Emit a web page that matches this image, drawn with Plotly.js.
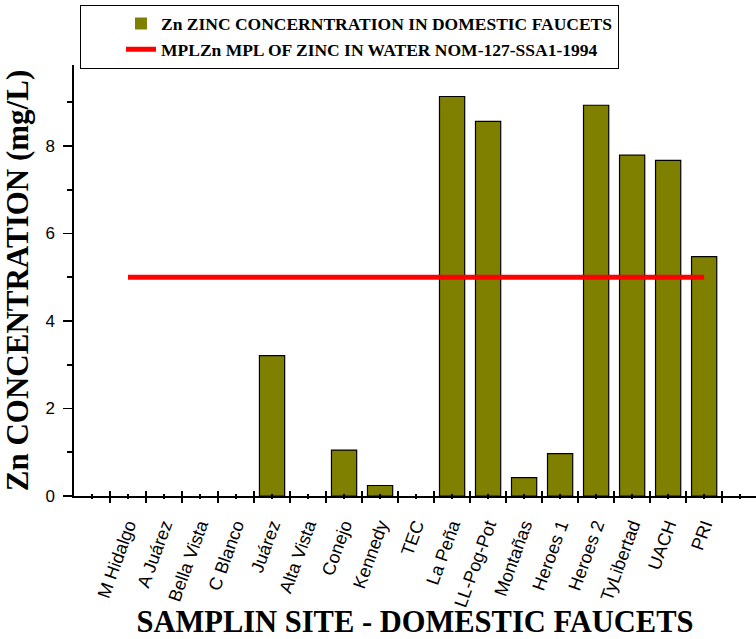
<!DOCTYPE html>
<html>
<head>
<meta charset="utf-8">
<script src="https://cdn.plot.ly/plotly-3.0.1.min.js"></script>
<style>
  html, body { margin: 0; padding: 0; background: #ffffff; }
  #chart { width: 756px; height: 639px; }
</style>
</head>
<body>
<div id="chart"></div>
<script>
// Sampling sites (domestic faucets)
const sites = [
  'M Hidalgo', 'A Juárez', 'Bella Vista', 'C Blanco', 'Juárez', 'Alta Vista',
  'Conejo', 'Kennedy', 'TEC', 'La Peña', 'LL-Pog-Pot', 'Montañas',
  'Heroes 1', 'Heroes 2', 'TyLibertad', 'UACH', 'PRI'
];

// Zinc concentration measured at each site (mg/L)
const zincConc = [
  0, 0, 0, 0, 3.21, 0,
  1.05, 0.24, 0, 9.13, 8.56, 0.42,
  0.97, 8.93, 7.79, 7.67, 5.47
];

// Maximum permissible limit of zinc, NOM-127-SSA1-1994 (mg/L)
const mplZn = [5, 5, 5, 5, 5, 5, 5, 5, 5, 5, 5, 5, 5, 5, 5, 5, 5];

const yTickVals = [0, 2, 4, 6, 8];

const seriesNames = [
  'Zn ZINC CONCERNTRATION IN DOMESTIC FAUCETS',
  'MPLZn MPL OF ZINC IN WATER NOM-127-SSA1-1994'
];

const X_RANGE = [-1.5, 17.44];
const Y_RANGE = [0, 9.85];

const sans = 'Liberation Sans, Arial, sans-serif';
const serif = 'Liberation Serif, Times New Roman, serif';

// bars with no zinc detected get no outline, so nothing sits on the axis
const barOutline = zincConc.map(v => (v > 0 ? 1.2 : 0));

const traces = [
  {
    type: 'bar',
    name: seriesNames[0],
    x: sites,
    y: zincConc,
    width: 0.7,
    marker: { color: '#808000', line: { color: '#000000', width: barOutline } },
    hoverinfo: 'x+y'
  },
  {
    type: 'scatter',
    mode: 'lines',
    name: seriesNames[1],
    x: sites,
    y: mplZn,
    line: { color: '#ff0000', width: 5 },
    hoverinfo: 'y'
  },
  // empty helpers so the overlay tick axes get drawn
  { type: 'scatter', x: [], y: [], xaxis: 'x2', showlegend: false, hoverinfo: 'skip' },
  { type: 'scatter', x: [], y: [], xaxis: 'x3', showlegend: false, hoverinfo: 'skip' },
  { type: 'scatter', x: [], y: [], xaxis: 'x4', showlegend: false, hoverinfo: 'skip' }
];

// tick-only overlay axes: boundary ticks crossing the axis and small centre ticks
function tickAxis(tick0, len, dir) {
  return {
    overlaying: 'x',
    anchor: 'y',
    side: 'bottom',
    type: 'linear',
    range: X_RANGE,
    tickmode: 'linear',
    tick0: tick0,
    dtick: 1,
    ticks: dir,
    ticklen: len,
    tickwidth: 1.6,
    tickcolor: '#000000',
    showticklabels: false,
    showgrid: false,
    zeroline: false,
    showline: false,
    fixedrange: true
  };
}

const layout = {
  width: 756,
  height: 639,
  margin: { l: 74, r: 0, t: 65, b: 143 },
  paper_bgcolor: '#ffffff',
  plot_bgcolor: '#ffffff',
  showlegend: true,
  bargap: 0.3,
  legend: {
    x: 0.0088,
    y: 1.14,
    xanchor: 'left',
    yanchor: 'top',
    bgcolor: '#ffffff',
    bordercolor: '#000000',
    borderwidth: 1,
    indentation: 40,
    entrywidth: 556,
    font: { family: serif, size: 17.5, color: '#000000', weight: 'bold' },
    traceorder: 'normal'
  },
  xaxis: {
    type: 'category',
    range: X_RANGE,
    tickmode: 'array',
    tickvals: sites,
    ticktext: sites,
    tickson: 'boundaries',
    ticks: 'outside',
    ticklen: 5,
    tickwidth: 1.6,
    tickcolor: '#000000',
    tickangle: -70,
    ticklabelstandoff: 10,
    tickfont: { family: sans, size: 18, color: '#000000' },
    showline: true,
    linecolor: '#000000',
    linewidth: 1.6,
    showgrid: false,
    zeroline: false,
    fixedrange: true,
    title: {
      text: 'SAMPLIN SITE - DOMESTIC FAUCETS',
      font: { family: serif, size: 30.5, color: '#000000', weight: 'bold' },
      standoff: 0
    }
  },
  xaxis2: tickAxis(0, 2, 'outside'),
  xaxis3: tickAxis(0.5, 5, 'inside'),
  xaxis4: tickAxis(0, 2, 'inside'),
  yaxis: {
    range: Y_RANGE,
    tickmode: 'array',
    tickvals: yTickVals,
    ticks: 'outside',
    ticklen: 9,
    tickwidth: 1.6,
    tickcolor: '#000000',
    ticklabelstandoff: 5,
    tickfont: { family: sans, size: 17, color: '#000000' },
    minor: { dtick: 1, ticks: 'outside', ticklen: 5, tickwidth: 1.6, tickcolor: '#000000', showgrid: false },
    showline: true,
    linecolor: '#000000',
    linewidth: 1.6,
    showgrid: false,
    zeroline: false,
    fixedrange: true,
    title: {
      text: 'Zn CONCENTRATION (mg/L)',
      font: { family: serif, size: 31, color: '#000000', weight: 'bold' },
      standoff: 8
    }
  }
};

Plotly.newPlot('chart', traces, layout, { displayModeBar: false, staticPlot: true });
</script>
</body>
</html>
